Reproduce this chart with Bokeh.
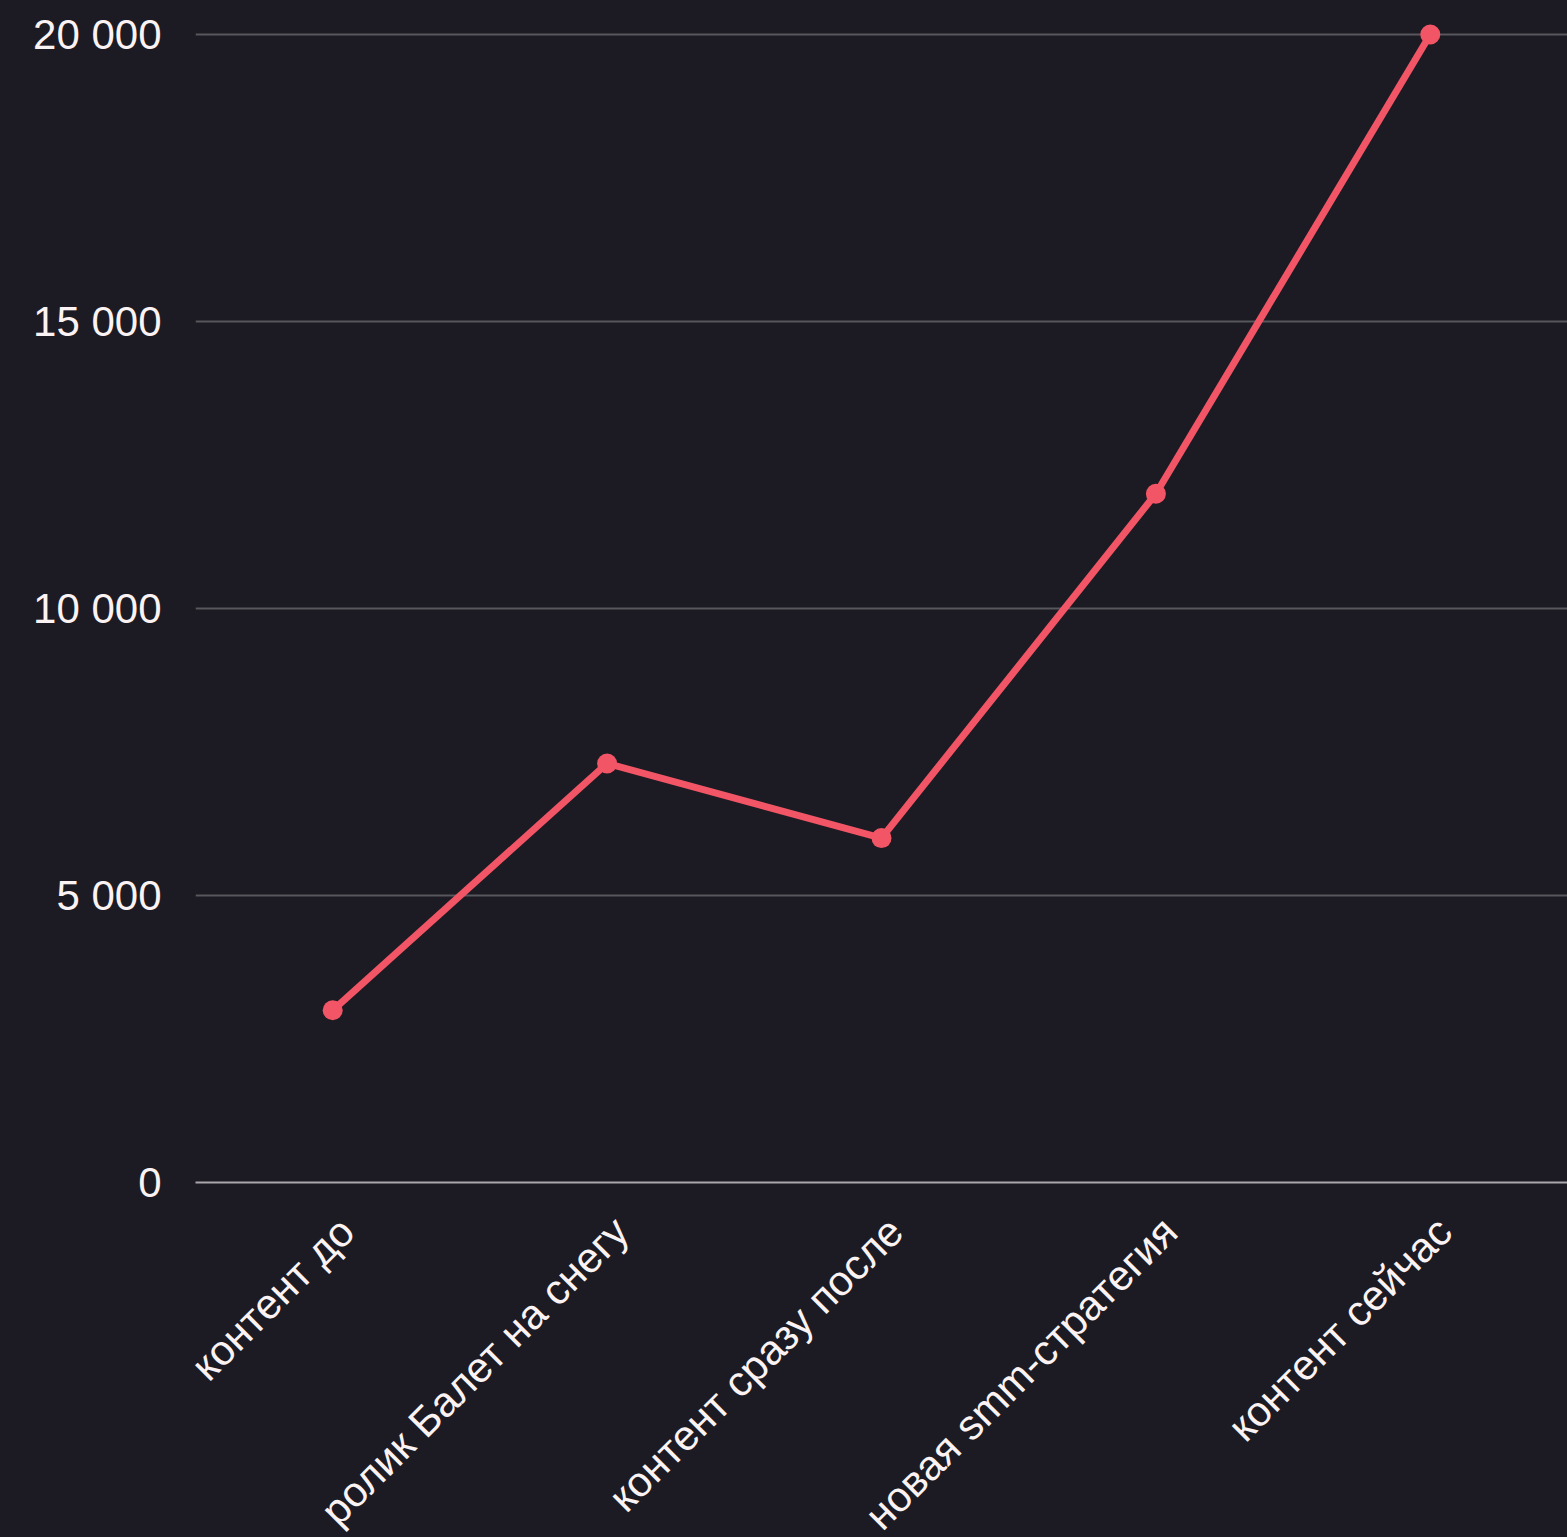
import math
from bokeh.plotting import figure
from bokeh.models import Range1d, FixedTicker, CustomJSTickFormatter
from bokeh.embed import file_html
from bokeh.resources import INLINE

categories = ["контент до", "ролик Балет на снегу", "контент сразу после",
              "новая smm-стратегия", "контент сейчас"]
values = [3000, 7300, 6000, 12000, 20000]
y_ticks = [0, 5000, 10000, 15000, 20000]

BG = "#1c1b23"
TEXT = "#fbf3f3"
LINE = "#f25565"
FONT = "Liberation Sans"
LABEL_SHIFT = 0.051  # horizontal nudge of the rotated labels, in category units

# category slots: each category occupies one unit, centred at i + 0.5
xpos = [i + 0.5 for i in range(len(categories))]

p = figure(x_range=Range1d(0, len(categories)), y_range=Range1d(0, 20453),
           frame_width=1372, frame_height=1174,
           min_border_left=195, min_border_right=0, min_border_top=8, min_border_bottom=0,
           output_backend="svg", toolbar_location=None)
p.background_fill_color = BG
p.border_fill_color = BG
p.outline_line_color = None

xax = p.xaxis[0]
xax.ticker = FixedTicker(ticks=[x + LABEL_SHIFT for x in xpos])
xax.formatter = CustomJSTickFormatter(args=dict(cats=categories),
                                      code="return cats[Math.floor(tick)];")
xax.axis_line_color = "#a9a8ab"
xax.axis_line_width = 2
xax.major_tick_line_color = None
xax.minor_tick_line_color = None
xax.major_tick_in = 0
xax.major_tick_out = 0
xax.major_label_orientation = math.pi / 4
xax.major_label_standoff = 42
xax.major_label_text_font = FONT
xax.major_label_text_font_size = "42px"
xax.major_label_text_color = TEXT

p.xgrid.grid_line_color = None
p.ygrid.grid_line_color = "#58575d"
p.ygrid.grid_line_width = 2
p.yaxis.ticker = FixedTicker(ticks=y_ticks)
p.yaxis.formatter = CustomJSTickFormatter(
    code='return String(Math.round(tick)).replace(/\\B(?=(\\d{3})+(?!\\d))/g, " ");')
p.yaxis.axis_line_color = None
p.yaxis.major_tick_line_color = None
p.yaxis.minor_tick_line_color = None
p.yaxis.major_tick_in = 0
p.yaxis.major_tick_out = 0
p.yaxis.major_label_standoff = 34
p.yaxis.major_label_text_font = FONT
p.yaxis.major_label_text_font_size = "42px"
p.yaxis.major_label_text_color = TEXT

p.line(x=xpos, y=values, line_color=LINE, line_width=7)
p.scatter(x=xpos, y=values, size=20, fill_color=LINE, line_color=None)

html = file_html(p, INLINE)
html = html.replace("<head>", "<head><style>html,body{background:%s;overflow:hidden;}</style>" % BG, 1)
open("out.html", "w").write(html)
